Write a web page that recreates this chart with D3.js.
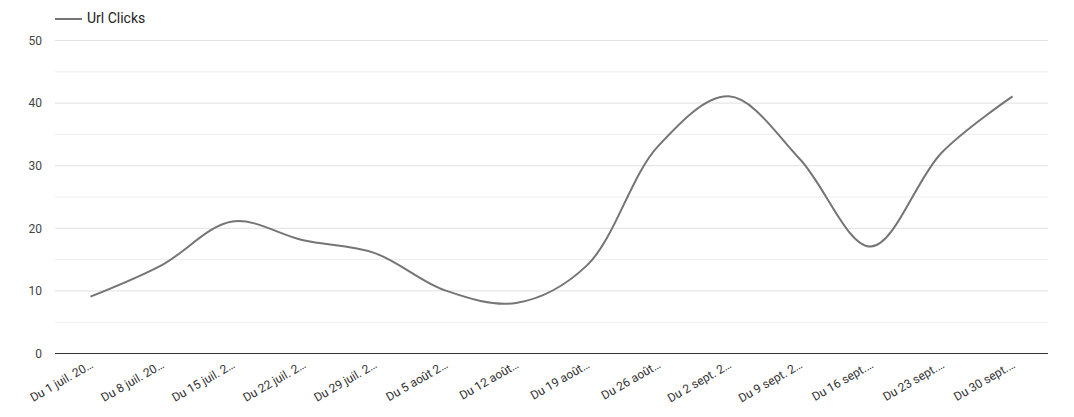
<!DOCTYPE html>
<html><head><meta charset="utf-8">
<script src="https://cdn.jsdelivr.net/npm/d3@7"></script>
<style>body{margin:0;background:#fff;font-family:Roboto,Arial,sans-serif}</style>
</head><body>
<svg id="c" width="1074" height="417"></svg>
<script>
const categories = ["Du 1 juil. 20…","Du 8 juil. 20…","Du 15 juil. 2…","Du 22 juil. 2…","Du 29 juil. 2…","Du 5 août 2…","Du 12 août…","Du 19 août…","Du 26 août…","Du 2 sept. 2…","Du 9 sept. 2…","Du 16 sept.…","Du 23 sept.…","Du 30 sept.…"];
const urlClicks = [9,14,21,18,16,10,8,14,33,41,31,17,32,41];
const yTicks = [0,10,20,30,40,50];
const yMinor = [5,15,25,35,45];
const seriesName = "Url Clicks";

const svg = d3.select("#c");
const L = 55, R = 1048, T = 40, B = 353;
const x = d3.scalePoint().domain(categories).range([L, R]).padding(0.5);
const y = d3.scaleLinear().domain([0,50]).range([B, T]);

svg.append("g").selectAll("line").data(yMinor).join("line")
  .attr("x1", L).attr("x2", R).attr("y1", d=>y(d)+0.5).attr("y2", d=>y(d)+0.5)
  .attr("stroke", "#ededed").attr("stroke-width", 1);
svg.append("g").selectAll("line").data(yTicks.filter(d=>d>0)).join("line")
  .attr("x1", L).attr("x2", R).attr("y1", d=>y(d)+0.5).attr("y2", d=>y(d)+0.5)
  .attr("stroke", "#e0e0e0").attr("stroke-width", 1);

const yAxis = d3.axisLeft(y).tickValues(yTicks).tickSize(0).tickPadding(0);
const gy = svg.append("g").attr("transform", `translate(${L-13},0)`).call(yAxis);
gy.select(".domain").remove();
gy.selectAll("text").attr("font-family","Roboto, Arial, sans-serif").attr("font-size", 12).attr("fill","#444").attr("dy","0.35em");

const line = d3.line().x((d,i)=>x(categories[i])).y(d=>y(d)).curve(d3.curveCatmullRom.alpha(0.5));
svg.append("path").datum(urlClicks).attr("d", line).attr("fill","none")
  .attr("stroke","#757575").attr("stroke-width",2);

svg.append("line").attr("x1", L).attr("x2", R).attr("y1", B+0.5).attr("y2", B+0.5).attr("stroke","#333").attr("stroke-width",1);

const xAxis = d3.axisBottom(x).tickSize(0).tickPadding(0);
const gx = svg.append("g").attr("transform", `translate(0,${B})`).call(xAxis);
gx.select(".domain").remove();
gx.selectAll("text").attr("font-family","Roboto, Arial, sans-serif").attr("font-size", 12).attr("fill","#333")
  .attr("text-anchor","end").attr("dy", null).attr("y", null)
  .attr("transform","translate(3,14) rotate(-30)");

const lg = svg.append("g");
lg.append("line").attr("x1",55).attr("x2",82).attr("y1",19).attr("y2",19).attr("stroke","#757575").attr("stroke-width",2);
lg.append("text").attr("x",87).attr("y",23).text(seriesName).attr("font-family","Roboto, Arial, sans-serif").attr("font-size",14).attr("fill","#222");
</script>
</body></html>
